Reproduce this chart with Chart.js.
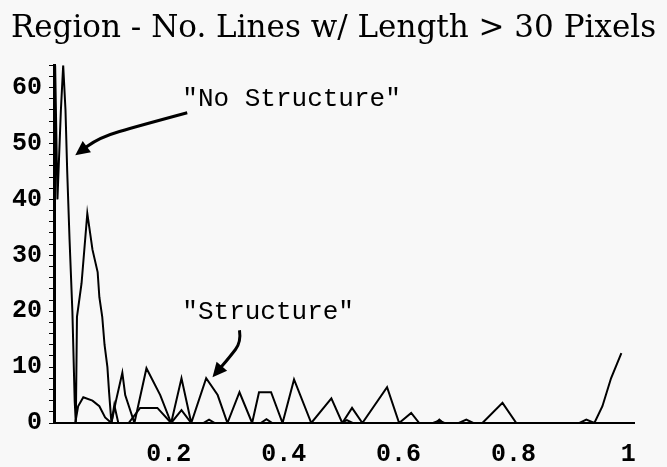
<!DOCTYPE html>
<html>
<head>
<meta charset="utf-8">
<script src="https://cdn.jsdelivr.net/npm/chart.js@4"></script>
<style>
  body { margin: 0; background: #f8f8f8; }
  #wrap { width: 667px; height: 467px; }
</style>
</head>
<body>
<div id="wrap"><canvas id="myChart"></canvas></div>
<script>
// "No Structure" curve
var noStructX = [0, 0.002, 0.006, 0.012, 0.016, 0.02, 0.023, 0.027, 0.032, 0.036, 0.038, 0.04, 0.048, 0.058, 0.067, 0.076, 0.079, 0.084, 0.088, 0.093, 0.096, 0.1, 0.105, 0.112, 0.13, 0.15, 0.18, 0.204, 0.222, 0.239, 0.26, 0.27, 0.28, 0.36, 0.37, 0.38, 0.5, 0.51, 0.52, 0.66, 0.67, 0.68, 1.008];
var noStructY = [0, 64, 40, 56, 64, 56, 45, 33, 20, 4, 0, 19, 25, 37.5, 31, 27, 22.5, 19, 14, 10, 5.4, 0, 3.2, 0, 0, 2.7, 2.7, 0, 2.3, 0, 0, 0.6, 0, 0, 0.7, 0, 0, 0.5, 0, 0, 0.4, 0, 0];

// "Structure" curve
var structX = [0, 0.037, 0.042, 0.051, 0.067, 0.079, 0.089, 0.1, 0.108, 0.119, 0.124, 0.14, 0.161, 0.185, 0.204, 0.222, 0.239, 0.265, 0.285, 0.302, 0.323, 0.345, 0.357, 0.378, 0.398, 0.418, 0.448, 0.483, 0.502, 0.519, 0.537, 0.58, 0.601, 0.622, 0.636, 0.665, 0.671, 0.678, 0.705, 0.718, 0.73, 0.746, 0.781, 0.805, 0.915, 0.927, 0.941, 0.955, 0.97, 0.988];
var structY = [0, 0, 3, 4.6, 4, 3, 1, 0, 4, 9, 5, 0, 9.8, 5, 0, 8, 0, 8, 5, 0, 5.5, 0, 5.5, 5.5, 0, 7.8, 0, 4.4, 0, 2.7, 0, 6.4, 0, 1.8, 0, 0, 0.6, 0, 0, 0.6, 0, 0, 3.6, 0, 0, 0.6, 0, 3, 8, 12.5];

var xTicks = [0.2, 0.4, 0.6, 0.8, 1];
var xTickLabels = ['0.2', '0.4', '0.6', '0.8', '1'];

// callouts: label position and arrow path, in data units
var labels = [
    { text: '"No Structure"', x: 0.2235, y: 58.0 },
    { text: '"Structure"', x: 0.2235, y: 19.8 }
];
var arrows = [
    [[0.232, 55.5], [0.149, 53.2], [0.079, 51.1], [0.037, 47.9]],
    [[0.323, 16.6], [0.326, 14.5], [0.306, 11.8], [0.276, 8.2]]
];

function toPoints(xs, ys) {
    return xs.map(function(x, i) { return { x: x, y: ys[i] }; });
}

var calloutPlugin = {
    id: 'callouts',
    afterDatasetsDraw: function(chart) {
        var c = chart.ctx, xs = chart.scales.x, ys = chart.scales.y;
        c.save();
        c.fillStyle = '#000';
        c.strokeStyle = '#000';
        c.font = '26px "Liberation Mono"';
        c.textBaseline = 'middle';
        labels.forEach(function(l) {
            c.fillText(l.text, xs.getPixelForValue(l.x), ys.getPixelForValue(l.y));
        });
        c.lineWidth = 3;
        arrows.forEach(function(a) {
            var p = a.map(function(d) { return [xs.getPixelForValue(d[0]), ys.getPixelForValue(d[1])]; });
            c.beginPath();
            c.moveTo(p[0][0], p[0][1]);
            for (var i = 1; i < p.length - 1; i++) {
                var mx = (p[i][0] + p[i + 1][0]) / 2, my = (p[i][1] + p[i + 1][1]) / 2;
                c.quadraticCurveTo(p[i][0], p[i][1], mx, my);
            }
            var tip = p[p.length - 1], prev = p[p.length - 2];
            var ang = Math.atan2(tip[1] - prev[1], tip[0] - prev[0]);
            var bx = tip[0] - 12 * Math.cos(ang), by = tip[1] - 12 * Math.sin(ang);
            c.lineTo(bx, by);
            c.stroke();
            c.beginPath();
            c.moveTo(tip[0], tip[1]);
            c.lineTo(tip[0] - 16 * Math.cos(ang - 0.45), tip[1] - 16 * Math.sin(ang - 0.45));
            c.lineTo(tip[0] - 16 * Math.cos(ang + 0.45), tip[1] - 16 * Math.sin(ang + 0.45));
            c.closePath();
            c.fill();
        });
        c.restore();
    }
};

var bg = {
    id: 'bg',
    beforeDraw: function(chart) {
        var c = chart.ctx;
        c.save();
        c.fillStyle = '#f8f8f8';
        c.fillRect(0, 0, chart.width, chart.height);
        c.restore();
    }
};

var ctx = document.getElementById('myChart').getContext('2d');
var myChart = new Chart(ctx, {
    type: 'line',
    data: {
        datasets: [{
            label: 'No Structure',
            data: toPoints(noStructX, noStructY),
            borderColor: '#000',
            borderWidth: 2,
            pointRadius: 0,
            tension: 0
        }, {
            label: 'Structure',
            data: toPoints(structX, structY),
            borderColor: '#000',
            borderWidth: 2,
            pointRadius: 0,
            tension: 0
        }]
    },
    options: {
        responsive: true,
        maintainAspectRatio: false,
        animation: false,
        plugins: {
            legend: { display: false },
            tooltip: { enabled: false },
            title: {
                display: true,
                text: 'Region - No. Lines w/ Length > 30 Pixels',
                color: '#000',
                font: { family: '"DejaVu Serif"', size: 31, weight: 'normal', lineHeight: 1.2 },
                padding: { top: 10, bottom: 18 }
            }
        },
        scales: {
            x: {
                type: 'linear',
                min: 0,
                max: 1.01,
                afterBuildTicks: function(scale) {
                    scale.ticks = xTicks.map(function(v) { return { value: v }; });
                },
                afterFit: function(scale) {
                    scale.height = 44;
                    scale.paddingRight = 33;
                },
                ticks: {
                    color: '#000',
                    font: { family: '"Liberation Mono"', size: 25, weight: 'bold' },
                    padding: 17,
                    maxRotation: 0,
                    autoSkip: false,
                    callback: function(v) {
                        var i = xTicks.indexOf(v);
                        return i >= 0 ? xTickLabels[i] : '';
                    }
                },
                grid: { display: true, drawOnChartArea: false, drawTicks: false },
                border: { color: '#000', width: 2 }
            },
            y: {
                min: 0,
                max: 64,
                afterFit: function(scale) { scale.width = 54; },
                ticks: {
                    stepSize: 2,
                    autoSkip: false,
                    color: '#000',
                    padding: 7,
                    font: { family: '"Liberation Mono"', size: 25, weight: 'bold' },
                    callback: function(v) { return v % 10 === 0 ? String(v) : ''; }
                },
                grid: { drawOnChartArea: false, drawTicks: true, tickLength: 5, color: '#000', lineWidth: 1 },
                border: { color: '#000', width: 3 }
            }
        }
    },
    plugins: [bg, calloutPlugin]
});
</script>
</body>
</html>
